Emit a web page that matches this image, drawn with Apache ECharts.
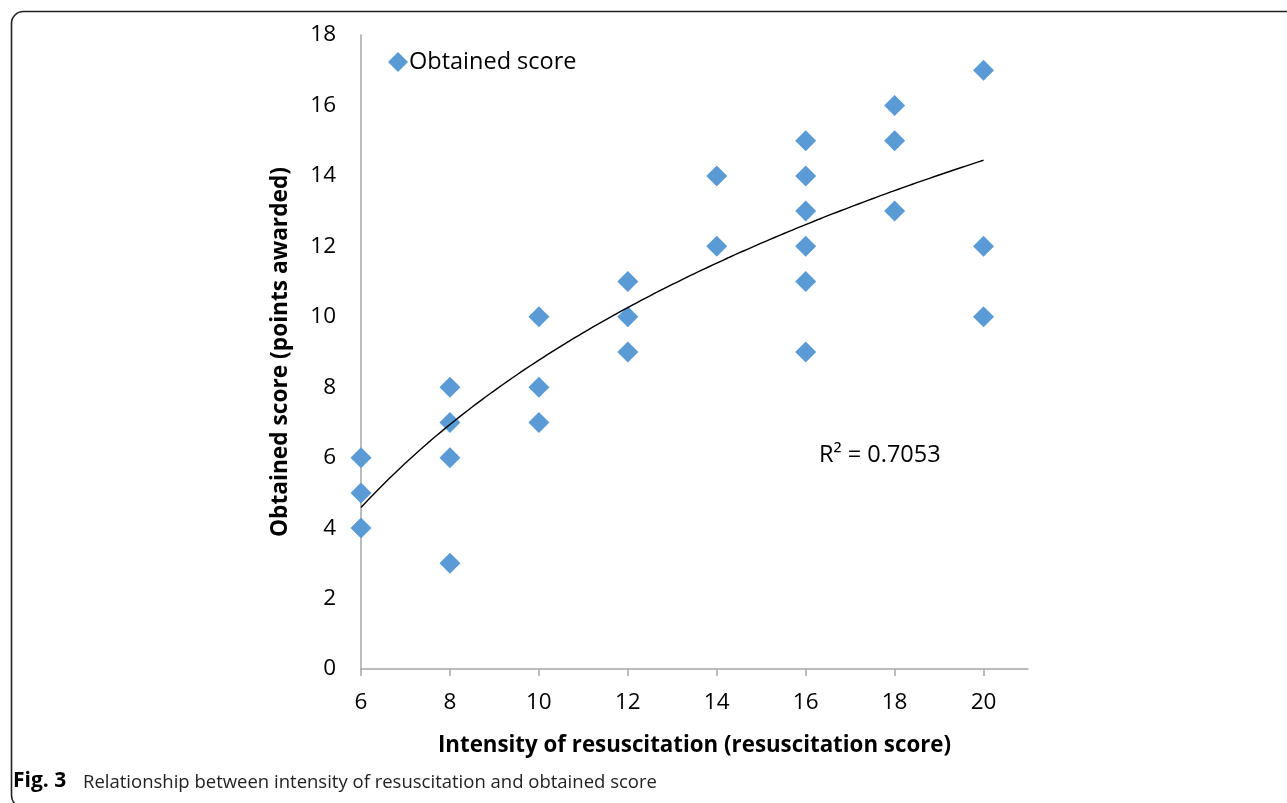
<!DOCTYPE html>
<html>
<head>
<meta charset="utf-8">
<script src="https://cdn.jsdelivr.net/npm/echarts@6/dist/echarts.min.js"></script>
<style>
html,body{margin:0;padding:0;background:#fff;}
#chart{width:1287px;height:803px;}
</style>
</head>
<body>
<div id="chart"></div>
<script>
// Intensity of resuscitation (x) and obtained score (y)
const intensity = [6, 6, 6, 8, 8, 8, 8, 10, 10, 10, 12, 12, 12, 14, 14, 16, 16, 16, 16, 16, 16, 18, 18, 18, 20, 20, 20];
const scores    = [6, 5, 4, 8, 7, 6, 3, 10, 8, 7, 11, 10, 9, 14, 12, 15, 14, 13, 12, 11, 9, 16, 15, 13, 17, 12, 10];
// Logarithmic trendline: y = a*ln(x) + b
const trendA = 8.19;
const trendB = -10.09;
const trendFrom = 6, trendTo = 20;
const xTicks = [6, 8, 10, 12, 14, 16, 18, 20];
const yTicks = [0, 2, 4, 6, 8, 10, 12, 14, 16, 18];
const seriesName = 'Obtained score';
const xTitle = 'Intensity of resuscitation (resuscitation score)';
const yTitle = 'Obtained score (points awarded)';
const r2Label = 'R² = 0.7053';
const figLabel = 'Fig. 3';
const caption = 'Relationship between intensity of resuscitation and obtained score';

const points = intensity.map((x, i) => [x, scores[i]]);
const trend = [];
for (let x = trendFrom; x <= trendTo + 1e-9; x += 0.1) {
  trend.push([x, trendA * Math.log(x) + trendB]);
}

const FONT = '"Open Sans", "Noto Sans", sans-serif';
const chart = echarts.init(document.getElementById('chart'), null, {renderer: 'canvas'});
chart.setOption({
  animation: false,
  backgroundColor: '#fff',
  grid: {left: 361, right: 259, top: 35, bottom: 134, containLabel: false},
  legend: {
    show: true,
    left: 383, top: 45,
    itemWidth: 20, itemHeight: 20, itemGap: 8,
    data: [{name: seriesName, icon: 'diamond', itemStyle: {color: '#5b9bd5', opacity: 1}}],
    textStyle: {fontFamily: FONT, fontSize: 23.5, color: '#000', padding: [0, 0, 0, -4]}
  },
  xAxis: {
    type: 'value', min: 6, max: 21, interval: 2,
    axisLine: {show: true, lineStyle: {color: '#a6a6a6', width: 1.5}},
    axisTick: {show: true, length: 7, lineStyle: {color: '#a6a6a6', width: 1.5}},
    splitLine: {show: false},
    axisLabel: {fontFamily: FONT, fontSize: 22.5, color: '#000', margin: 22, showMaxLabel: false,
      formatter: v => xTicks.includes(v) ? String(v) : ''},
    name: xTitle, nameLocation: 'middle', nameGap: 66,
    nameTextStyle: {fontFamily: FONT, fontSize: 22.3, fontWeight: 'bold', color: '#000'}
  },
  yAxis: {
    type: 'value', min: 0, max: 18, interval: 2,
    axisLine: {show: true, lineStyle: {color: '#a6a6a6', width: 1.5}},
    axisTick: {show: false},
    splitLine: {show: false},
    axisLabel: {fontFamily: FONT, fontSize: 22.5, color: '#000', margin: 25,
      formatter: v => yTicks.includes(v) ? String(v) : ''},
    name: yTitle, nameLocation: 'middle', nameGap: 69, nameRotate: 90,
    nameTextStyle: {fontFamily: FONT, fontSize: 22.7, fontWeight: 'bold', color: '#000'}
  },
  series: [
    {
      name: seriesName, type: 'scatter', symbol: 'diamond', symbolSize: 21,
      itemStyle: {color: '#5b9bd5', opacity: 1},
      data: points, z: 3
    },
    {
      name: 'trend', type: 'line', showSymbol: false, symbol: 'none', smooth: false,
      lineStyle: {color: '#000', width: 1.4},
      data: trend, z: 4, silent: true
    }
  ],
  graphic: [
    {type: 'rect', left: 9, top: 9, silent: true,
      shape: {width: 1300, height: 796, r: 12},
      style: {fill: 'none', stroke: '#222', lineWidth: 1.6}, z: -1},
    {type: 'text', left: 819, top: 443, silent: true,
      style: {text: r2Label, fontFamily: FONT, fontSize: 23.5, fill: '#000'}},
    {type: 'text', left: 13, top: 771, silent: true,
      style: {text: figLabel, fontFamily: FONT, fontSize: 21, fontWeight: 'bold', fill: '#000'}},
    {type: 'text', left: 83, top: 773, silent: true,
      style: {text: caption, fontFamily: FONT, fontSize: 18.5, fill: '#222'}}
  ]
});
</script>
</body>
</html>
